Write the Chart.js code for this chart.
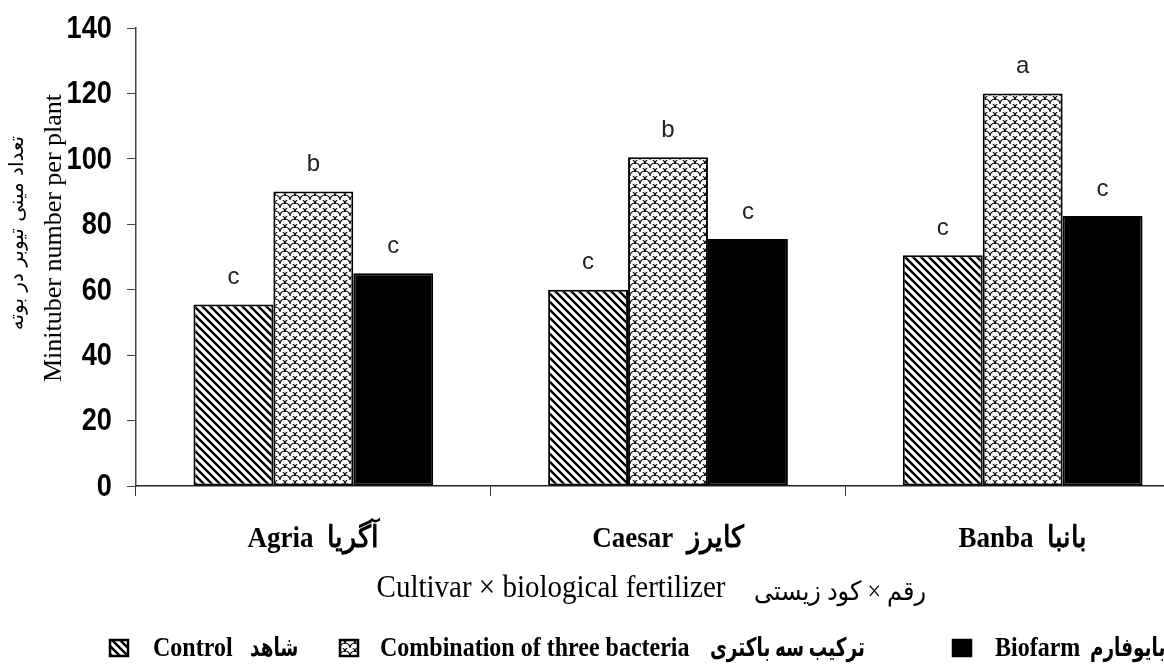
<!DOCTYPE html>
<html>
<head>
<meta charset="utf-8">
<script src="https://cdn.jsdelivr.net/npm/chart.js@4/dist/chart.umd.min.js"></script>
<style>
  body { margin: 0; background: #fff; overflow: hidden; }
</style>
</head>
<body>
<canvas id="chart" width="1215" height="666"></canvas>
<script>
const cultivars = ["Agria  آگریا", "Caesar  کایرز", "Banba  بانبا"];
const yTicks = [0, 20, 40, 60, 80, 100, 120, 140];

const controlValues = [55.5, 60, 70.5];
const bacteriaValues = [90, 100.5, 120];
const biofarmValues = [65, 75.5, 82.5];

const controlLetters = ["c", "c", "c"];
const bacteriaLetters = ["b", "b", "a"];
const biofarmLetters = ["c", "c", "c"];

const seriesEn = ["Control", "Combination of three bacteria", "Biofarm"];
const seriesFa = ["شاهد", "ترکیب سه باکتری", "بایوفارم"];

const canvas = document.getElementById("chart");
const ctx = canvas.getContext("2d");

function hatchPattern() {
  const c = document.createElement("canvas");
  c.width = 8; c.height = 8;
  const g = c.getContext("2d");
  g.fillStyle = "#fff";
  g.fillRect(0, 0, 8, 8);
  g.strokeStyle = "#000";
  g.lineWidth = 2.4;
  g.beginPath();
  g.moveTo(-2, -2); g.lineTo(10, 10);
  g.moveTo(-2, 6); g.lineTo(2, 10);
  g.moveTo(6, -2); g.lineTo(10, 2);
  g.stroke();
  return ctx.createPattern(c, "repeat");
}

function scalePattern() {
  // fish-scale like texture
  const c = document.createElement("canvas");
  c.width = 10; c.height = 8;
  const g = c.getContext("2d");
  g.fillStyle = "#fff";
  g.fillRect(0, 0, 10, 8);
  g.strokeStyle = "#000";
  g.lineWidth = 1.1;
  g.beginPath();
  g.arc(5, 8, 5, Math.PI, 2 * Math.PI);
  g.stroke();
  g.beginPath();
  g.arc(0, 4, 5, Math.PI * 1.5, 2 * Math.PI);
  g.stroke();
  g.beginPath();
  g.arc(10, 4, 5, Math.PI, Math.PI * 1.5);
  g.stroke();
  return ctx.createPattern(c, "repeat");
}

const fills = [hatchPattern(), scalePattern(), "#000"];

// text with a slight stretch like the original
function stretchText(g, text, x, y, font, align, sx, sy, baseline) {
  g.save();
  g.translate(x, y);
  g.scale(sx, sy);
  g.font = font;
  g.textAlign = align;
  g.textBaseline = baseline || "alphabetic";
  g.fillText(text, 0, 0);
  g.restore();
}

const extras = {
  id: "extras",
  afterDatasetsDraw(chart) {
    const g = chart.ctx;
    const letters = [controlLetters, bacteriaLetters, biofarmLetters];
    g.save();
    g.fillStyle = "#222";
    g.font = "24px 'Liberation Sans', Arial";
    g.textAlign = "center";
    g.textBaseline = "middle";
    chart.data.datasets.forEach((ds, i) => {
      chart.getDatasetMeta(i).data.forEach((bar, j) => {
        g.fillText(letters[i][j], bar.x, bar.y - 27);
      });
    });
    g.restore();
  },
  afterDraw(chart) {
    const g = chart.ctx;
    const x = chart.scales.x;
    const y = chart.scales.y;
    g.save();
    g.fillStyle = "#000";

    // y tick labels (narrow bold)
    yTicks.forEach(v => {
      stretchText(g, String(v), 112, y.getPixelForValue(v) + 1, "bold 32px 'Liberation Sans', Arial", "right", 0.85, 1, "middle");
    });

    // category labels
    cultivars.forEach((c, i) => {
      stretchText(g, c, x.getPixelForValue(i), 547, "bold 27px 'Liberation Serif', 'Times New Roman'", "center", 1, 1.1);
    });

    // x title
    stretchText(g, "Cultivar × biological fertilizer", 551, 597, "29px 'Liberation Serif', 'Times New Roman'", "center", 1, 1.1);
    stretchText(g, "رقم × کود زیستی", 840, 600, "24px 'Liberation Serif', 'DejaVu Sans'", "center", 1, 1.1);

    // y title
    g.save();
    g.translate(61, 238);
    g.rotate(-Math.PI / 2);
    g.font = "26px 'Liberation Serif', 'Times New Roman'";
    g.textAlign = "center";
    g.fillText("Minituber number per plant", 0, 0);
    g.restore();
    g.save();
    g.translate(23, 233);
    g.rotate(-Math.PI / 2);
    g.font = "20px 'DejaVu Sans', 'Noto Sans'";
    g.textAlign = "center";
    g.fillText("تعداد مینی تیوبر در بوته", 0, 0);
    g.restore();

    // legend
    const legendX = [[110, 153, 250], [340, 380, 710], [953, 995, 1090]];
    seriesEn.forEach((name, i) => {
      const [bx, tx, fx] = legendX[i];
      g.fillStyle = fills[i];
      g.fillRect(bx, 640, 18, 16);
      g.strokeStyle = "#000";
      g.lineWidth = 2.5;
      g.strokeRect(bx, 640, 18, 16);
      g.fillStyle = "#000";
      stretchText(g, name, tx, 656, "bold 24px 'Liberation Serif', 'Times New Roman'", "left", 1, 1.12);
      stretchText(g, seriesFa[i], fx, 656, "bold 23px 'Liberation Serif', 'DejaVu Sans'", "left", 0.8, 1.12);
    });
    g.restore();
  }
};

new Chart(ctx, {
  type: "bar",
  data: {
    labels: cultivars,
    datasets: [
      { label: seriesEn[0], data: controlValues, backgroundColor: fills[0] },
      { label: seriesEn[1], data: bacteriaValues, backgroundColor: fills[1] },
      { label: seriesEn[2], data: biofarmValues, backgroundColor: fills[2] },
    ].map(d => Object.assign(d, { borderColor: "#000", borderWidth: 2, borderSkipped: false })),
  },
  options: {
    responsive: false,
    animation: false,
    layout: { padding: { top: 28, right: 15, bottom: 0, left: 0 } },
    datasets: {
      bar: { categoryPercentage: 0.676, barPercentage: 1.0 },
    },
    plugins: {
      legend: { display: false },
      tooltip: { enabled: false },
    },
    scales: {
      x: {
        grid: { drawOnChartArea: false, drawTicks: true, tickLength: 10, color: "#333", offset: true },
        border: { color: "#222", width: 1.5 },
        ticks: { display: false },
        afterFit(scale) { scale.height = 180; },
      },
      y: {
        min: 0,
        max: 140,
        afterBuildTicks(scale) { scale.ticks = yTicks.map(v => ({ value: v })); },
        grid: { drawOnChartArea: false, drawTicks: true, tickLength: 9, color: "#444" },
        border: { color: "#444", width: 1.5 },
        ticks: { display: false },
        afterFit(scale) { scale.width = 136; },
      },
    },
  },
  plugins: [extras],
});
</script>
</body>
</html>
